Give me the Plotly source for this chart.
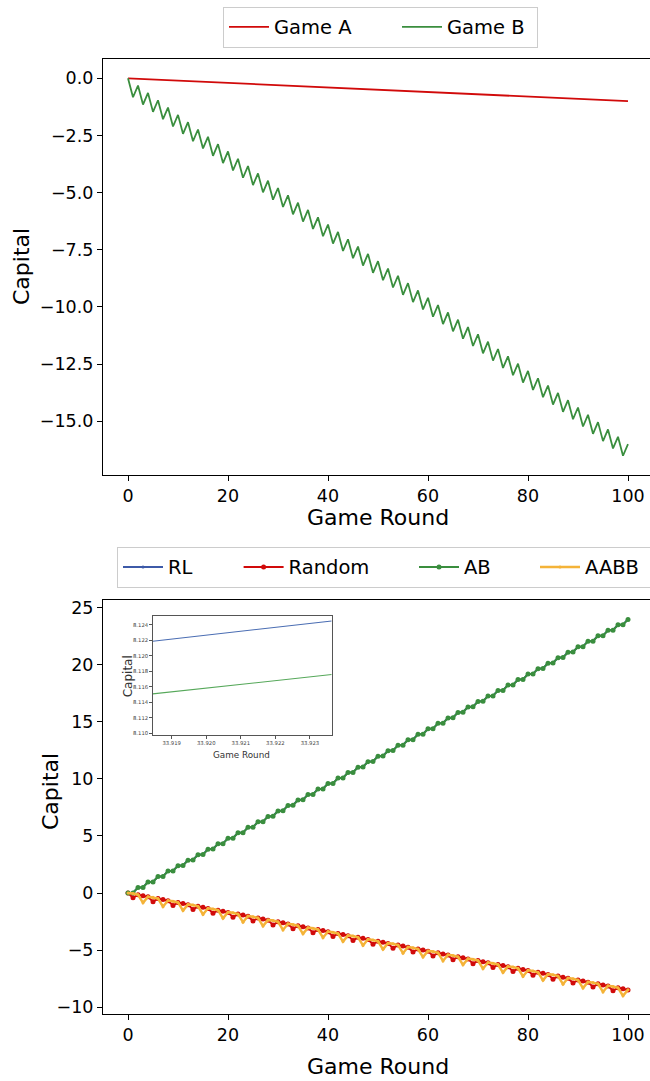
import plotly.graph_objects as go

# ---------------- data ----------------
rounds = list(range(101))

game_a = [0.00, -0.01, -0.02, -0.03, -0.04, -0.05, -0.06, -0.07, -0.08, -0.09,
          -0.10, -0.11, -0.12, -0.13, -0.14, -0.15, -0.16, -0.17, -0.18, -0.19,
          -0.20, -0.21, -0.22, -0.23, -0.24, -0.25, -0.26, -0.27, -0.28, -0.29,
          -0.30, -0.31, -0.32, -0.33, -0.34, -0.35, -0.36, -0.37, -0.38, -0.39,
          -0.40, -0.41, -0.42, -0.43, -0.44, -0.45, -0.46, -0.47, -0.48, -0.49,
          -0.50, -0.51, -0.52, -0.53, -0.54, -0.55, -0.56, -0.57, -0.58, -0.59,
          -0.60, -0.61, -0.62, -0.63, -0.64, -0.65, -0.66, -0.67, -0.68, -0.69,
          -0.70, -0.71, -0.72, -0.73, -0.74, -0.75, -0.76, -0.77, -0.78, -0.79,
          -0.80, -0.81, -0.82, -0.83, -0.84, -0.85, -0.86, -0.87, -0.88, -0.89,
          -0.90, -0.91, -0.92, -0.93, -0.94, -0.95, -0.96, -0.97, -0.98, -0.99,
          -1.00]

game_b = [0.00, -0.83, -0.32, -1.15, -0.64, -1.47, -0.96, -1.79, -1.28, -2.11,
          -1.60, -2.43, -1.92, -2.75, -2.24, -3.07, -2.56, -3.39, -2.88, -3.71,
          -3.20, -4.03, -3.52, -4.35, -3.84, -4.67, -4.16, -4.99, -4.48, -5.31,
          -4.80, -5.63, -5.12, -5.95, -5.44, -6.27, -5.76, -6.59, -6.08, -6.91,
          -6.40, -7.23, -6.72, -7.55, -7.04, -7.87, -7.36, -8.19, -7.68, -8.51,
          -8.00, -8.83, -8.32, -9.15, -8.64, -9.47, -8.96, -9.79, -9.28, -10.11,
          -9.60, -10.43, -9.92, -10.75, -10.24, -11.07, -10.56, -11.39, -10.88, -11.71,
          -11.20, -12.03, -11.52, -12.35, -11.84, -12.67, -12.16, -12.99, -12.48, -13.31,
          -12.80, -13.63, -13.12, -13.95, -13.44, -14.27, -13.76, -14.59, -14.08, -14.91,
          -14.40, -15.23, -14.72, -15.55, -15.04, -15.87, -15.36, -16.19, -15.68, -16.51,
          -16.00]

rl = [0.00, 0.02, 0.49, 0.50, 0.97, 0.98, 1.45, 1.46, 1.93, 1.94,
      2.41, 2.42, 2.89, 2.90, 3.37, 3.38, 3.85, 3.86, 4.33, 4.34,
      4.81, 4.82, 5.29, 5.30, 5.77, 5.78, 6.25, 6.26, 6.73, 6.74,
      7.21, 7.22, 7.69, 7.70, 8.17, 8.18, 8.65, 8.66, 9.13, 9.14,
      9.61, 9.62, 10.09, 10.10, 10.57, 10.58, 11.05, 11.06, 11.53, 11.54,
      12.01, 12.02, 12.49, 12.50, 12.97, 12.98, 13.45, 13.46, 13.93, 13.94,
      14.41, 14.42, 14.89, 14.90, 15.37, 15.38, 15.85, 15.86, 16.33, 16.34,
      16.81, 16.82, 17.29, 17.30, 17.77, 17.78, 18.25, 18.26, 18.73, 18.74,
      19.21, 19.22, 19.69, 19.70, 20.17, 20.18, 20.65, 20.66, 21.13, 21.14,
      21.61, 21.62, 22.09, 22.10, 22.57, 22.58, 23.05, 23.06, 23.53, 23.54,
      24.01]

random_s = [0.00, -0.42, -0.15, -0.24, -0.34, -0.76, -0.49, -0.58, -0.68, -1.10,
            -0.83, -0.92, -1.02, -1.44, -1.17, -1.26, -1.36, -1.78, -1.51, -1.60,
            -1.70, -2.12, -1.85, -1.94, -2.04, -2.46, -2.19, -2.28, -2.38, -2.80,
            -2.53, -2.62, -2.72, -3.14, -2.87, -2.96, -3.06, -3.48, -3.21, -3.30,
            -3.40, -3.82, -3.55, -3.64, -3.74, -4.16, -3.89, -3.98, -4.08, -4.50,
            -4.23, -4.32, -4.42, -4.84, -4.57, -4.66, -4.76, -5.18, -4.91, -5.00,
            -5.10, -5.52, -5.25, -5.34, -5.44, -5.86, -5.59, -5.68, -5.78, -6.20,
            -5.93, -6.02, -6.12, -6.54, -6.27, -6.36, -6.46, -6.88, -6.61, -6.70,
            -6.80, -7.22, -6.95, -7.04, -7.14, -7.56, -7.29, -7.38, -7.48, -7.90,
            -7.63, -7.72, -7.82, -8.24, -7.97, -8.06, -8.16, -8.58, -8.31, -8.40,
            -8.50]

ab = [0.00, 0.01, 0.48, 0.49, 0.96, 0.97, 1.44, 1.45, 1.92, 1.93,
      2.40, 2.41, 2.88, 2.89, 3.36, 3.37, 3.84, 3.85, 4.32, 4.33,
      4.80, 4.81, 5.28, 5.29, 5.76, 5.77, 6.24, 6.25, 6.72, 6.73,
      7.20, 7.21, 7.68, 7.69, 8.16, 8.17, 8.64, 8.65, 9.12, 9.13,
      9.60, 9.61, 10.08, 10.09, 10.56, 10.57, 11.04, 11.05, 11.52, 11.53,
      12.00, 12.01, 12.48, 12.49, 12.96, 12.97, 13.44, 13.45, 13.92, 13.93,
      14.40, 14.41, 14.88, 14.89, 15.36, 15.37, 15.84, 15.85, 16.32, 16.33,
      16.80, 16.81, 17.28, 17.29, 17.76, 17.77, 18.24, 18.25, 18.72, 18.73,
      19.20, 19.21, 19.68, 19.69, 20.16, 20.17, 20.64, 20.65, 21.12, 21.13,
      21.60, 21.61, 22.08, 22.09, 22.56, 22.57, 23.04, 23.05, 23.52, 23.53,
      24.00]

aabb = [0.00, -0.04, -0.15, -0.86, -0.32, -0.38, -0.49, -1.20, -0.66, -0.72,
        -0.83, -1.54, -1.00, -1.06, -1.17, -1.88, -1.34, -1.40, -1.51, -2.22,
        -1.68, -1.74, -1.85, -2.56, -2.02, -2.08, -2.19, -2.90, -2.36, -2.42,
        -2.53, -3.24, -2.70, -2.76, -2.87, -3.58, -3.04, -3.10, -3.21, -3.92,
        -3.38, -3.44, -3.55, -4.26, -3.72, -3.78, -3.89, -4.60, -4.06, -4.12,
        -4.23, -4.94, -4.40, -4.46, -4.57, -5.28, -4.74, -4.80, -4.91, -5.62,
        -5.08, -5.14, -5.25, -5.96, -5.42, -5.48, -5.59, -6.30, -5.76, -5.82,
        -5.93, -6.64, -6.10, -6.16, -6.27, -6.98, -6.44, -6.50, -6.61, -7.32,
        -6.78, -6.84, -6.95, -7.66, -7.12, -7.18, -7.29, -8.00, -7.46, -7.52,
        -7.63, -8.34, -7.80, -7.86, -7.97, -8.68, -8.14, -8.20, -8.31, -9.02,
        -8.48]

# inset (zoomed view around round 33.92)
inset_x = [33.91845, 33.92363]
inset_rl = [8.1219, 8.1245]
inset_ab = [8.1151, 8.1176]

top_yticks = [0.0, -2.5, -5.0, -7.5, -10.0, -12.5, -15.0]
bot_yticks = [-10, -5, 0, 5, 10, 15, 20, 25]
xticks = [0, 20, 40, 60, 80, 100]
inset_xticks = [33.919, 33.920, 33.921, 33.922, 33.923]
inset_yticks = [8.110, 8.112, 8.114, 8.116, 8.118, 8.120, 8.122, 8.124]

# ---------------- layout helpers ----------------
W, H = 650, 1081
ML = 103
FONT = "DejaVu Sans"


def px_x(x):
    return (x - ML) / (W - ML)


def px_y(y):
    return 1 - y / H


RED = "#d10a0a"
GREEN = "#3a8e3e"
BLUE = "#3d5aa8"
ORANGE = "#f4b338"

fig = go.Figure()

fig.add_trace(go.Scatter(x=rounds, y=game_a, mode="lines", name="Game A",
                         line=dict(color=RED, width=1.8), xaxis="x", yaxis="y",
                         legend="legend", legendwidth=118))
fig.add_trace(go.Scatter(x=rounds, y=game_b, mode="lines", name="Game B",
                         line=dict(color=GREEN, width=1.8), xaxis="x", yaxis="y",
                         legend="legend", legendwidth=85))

fig.add_trace(go.Scatter(x=rounds, y=rl, mode="lines+markers", name="RL",
                         line=dict(color=BLUE, width=2), marker=dict(size=3, color=BLUE),
                         xaxis="x2", yaxis="y2", legend="legend2", legendwidth=65.6))
fig.add_trace(go.Scatter(x=rounds, y=random_s, mode="lines+markers", name="Random",
                         line=dict(color=RED, width=2), marker=dict(size=5, color=RED),
                         xaxis="x2", yaxis="y2", legend="legend2", legendwidth=120.4))
fig.add_trace(go.Scatter(x=rounds, y=ab, mode="lines+markers", name="AB",
                         line=dict(color=GREEN, width=2), marker=dict(size=5, color=GREEN),
                         xaxis="x2", yaxis="y2", legend="legend2", legendwidth=66))
fig.add_trace(go.Scatter(x=rounds, y=aabb, mode="lines+markers", name="AABB",
                         line=dict(color=ORANGE, width=2.5), marker=dict(size=3, color=ORANGE),
                         xaxis="x2", yaxis="y2", legend="legend2", legendwidth=75))

fig.add_trace(go.Scatter(x=inset_x, y=inset_rl, mode="lines", showlegend=False,
                         line=dict(color="#4a6db3", width=1.1), xaxis="x3", yaxis="y3"))
fig.add_trace(go.Scatter(x=inset_x, y=inset_ab, mode="lines", showlegend=False,
                         line=dict(color="#56a85a", width=1.1), xaxis="x3", yaxis="y3"))

axis_common = dict(showline=True, linecolor="black", linewidth=1.1, ticks="outside",
                   ticklen=5, tickwidth=1.1, tickcolor="black", showgrid=False,
                   zeroline=False, tickfont=dict(family=FONT, size=17.5, color="black"))

inset_axis = dict(showline=True, linecolor="#555555", linewidth=1, mirror=True,
                  ticks="outside", ticklen=2.5, tickwidth=0.8, tickcolor="#555555",
                  showgrid=False, zeroline=False,
                  tickfont=dict(family=FONT, size=5.3, color="#444444"))

fig.update_layout(
    width=W, height=H,
    margin=dict(l=ML, r=0, t=0, b=0, autoexpand=False),
    paper_bgcolor="white", plot_bgcolor="white",
    font=dict(family=FONT, color="black"),
    showlegend=True,
    xaxis=dict(domain=[0, 1], range=[-5, 104.4], tickvals=xticks, mirror=True,
               anchor="y", **axis_common),
    yaxis=dict(domain=[px_y(474.5), px_y(59.3)], range=[-17.33, 0.83],
               tickvals=top_yticks, tickformat=".1f", anchor="x", **axis_common),
    xaxis2=dict(domain=[0, 1], range=[-5, 104.4], tickvals=xticks, mirror=True,
                anchor="y2", **axis_common),
    yaxis2=dict(domain=[px_y(1014.3), px_y(600.0)], range=[-10.64, 25.7],
                tickvals=bot_yticks, anchor="x2", **axis_common),
    xaxis3=dict(domain=[px_x(152.7), px_x(331.7)], range=[inset_x[0], inset_x[1]],
                tickvals=inset_xticks, tickformat=".3f", anchor="y3", **inset_axis),
    yaxis3=dict(domain=[px_y(735), px_y(616)], range=[8.1098, 8.12515],
                tickvals=inset_yticks, tickformat=".3f", anchor="x3", **inset_axis),
    legend=dict(orientation="h", x=px_x(223), xanchor="left", y=px_y(6.7), yanchor="top",
                bordercolor="#cccccc", borderwidth=1, bgcolor="white", itemwidth=40,
                font=dict(family=FONT, size=19.5, color="black")),
    legend2=dict(orientation="h", x=px_x(117), xanchor="left", y=px_y(546.7), yanchor="top",
                 bordercolor="#cccccc", borderwidth=1, bgcolor="white", itemwidth=40,
                 font=dict(family=FONT, size=19.5, color="black")),
)

annos = [
    dict(text="Capital", x=px_x(22), y=px_y(267), textangle=-90, font=dict(size=22)),
    dict(text="Game Round", x=px_x(378), y=px_y(517), font=dict(size=22)),
    dict(text="Capital", x=px_x(50), y=px_y(792), textangle=-90, font=dict(size=22)),
    dict(text="Game Round", x=px_x(378), y=px_y(1066), font=dict(size=22)),
    dict(text="Capital", x=px_x(128.3), y=px_y(676), textangle=-90,
         font=dict(size=12, color="#333333")),
    dict(text="Game Round", x=px_x(241.7), y=px_y(754.5), font=dict(size=8.8, color="#333333")),
]
for a in annos:
    fig.add_annotation(xref="paper", yref="paper", showarrow=False,
                       xanchor="center", yanchor="middle",
                       font=dict(family=FONT, size=a["font"]["size"],
                                 color=a["font"].get("color", "black")),
                       **{k: v for k, v in a.items() if k != "font"})

fig.write_html("out.html")
